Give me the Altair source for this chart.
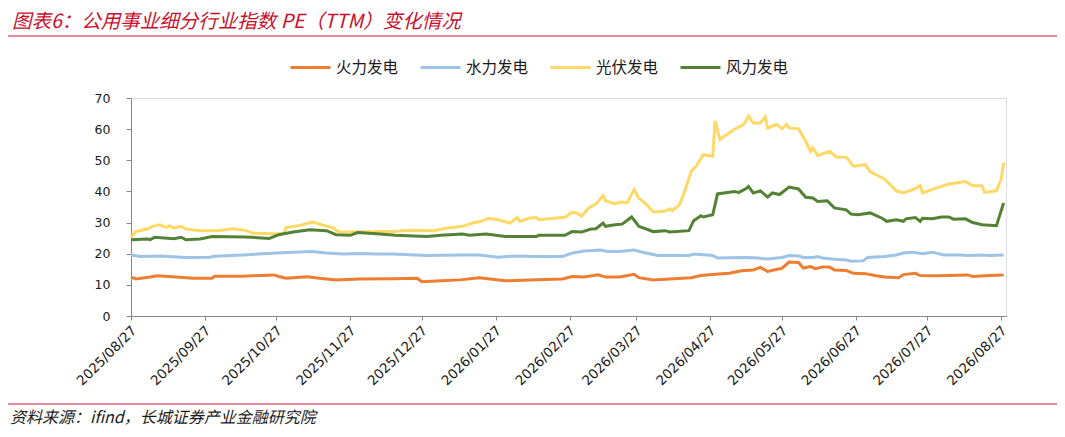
import altair as alt
import pandas as pd

series_names = ["火力发电", "水力发电", "光伏发电", "风力发电"]
series_colors = ["#ED7D31", "#9DC3E6", "#FFD966", "#548235"]

title_text = "图表6：公用事业细分行业指数 PE（TTM）变化情况"
source_text = "资料来源：ifind，长城证券产业金融研究院"

# 火力发电
huoli_dates = ["2025-08-27", "2025-08-29", "2025-09-04", "2025-09-07", "2025-09-15", "2025-09-22",
               "2025-09-30", "2025-10-01", "2025-10-13", "2025-10-26", "2025-10-28", "2025-10-31",
               "2025-11-09", "2025-11-14", "2025-11-21", "2025-12-01", "2025-12-15", "2025-12-25",
               "2025-12-27", "2026-01-04", "2026-01-12", "2026-01-20", "2026-01-31", "2026-02-13",
               "2026-02-24", "2026-02-28", "2026-03-05", "2026-03-11", "2026-03-14", "2026-03-20",
               "2026-03-26", "2026-03-28", "2026-04-03", "2026-04-10", "2026-04-19", "2026-04-23",
               "2026-04-29", "2026-05-05", "2026-05-10", "2026-05-15", "2026-05-18", "2026-05-21",
               "2026-05-25", "2026-05-27", "2026-05-30", "2026-06-03", "2026-06-05", "2026-06-08",
               "2026-06-10", "2026-06-13", "2026-06-16", "2026-06-18", "2026-06-23", "2026-06-26",
               "2026-07-01", "2026-07-05", "2026-07-09", "2026-07-15", "2026-07-17", "2026-07-22",
               "2026-07-24", "2026-07-31", "2026-08-13", "2026-08-15", "2026-08-22", "2026-08-28"]
huoli_values = [12.5, 11.9, 12.5, 12.9, 12.5, 12.1,
                12.1, 12.8, 12.8, 13.2, 12.7, 12.1,
                12.6, 12.1, 11.6, 11.9, 12.0, 12.1,
                11.0, 11.3, 11.6, 12.3, 11.3, 11.6,
                11.9, 12.7, 12.5, 13.2, 12.5, 12.5,
                13.4, 12.3, 11.6, 11.9, 12.3, 13.0,
                13.4, 13.7, 14.5, 14.8, 15.6, 14.3,
                15.0, 15.3, 17.3, 17.2, 15.4, 15.9,
                15.2, 15.7, 15.7, 14.8, 14.6, 13.7,
                13.6, 13.0, 12.5, 12.3, 13.3, 13.7,
                13.0, 12.9, 13.2, 12.7, 13.0, 13.2]

# 水力发电
shuili_dates = ["2025-08-27", "2025-08-31", "2025-09-08", "2025-09-19", "2025-09-29", "2025-10-01",
                "2025-10-13", "2025-10-27", "2025-11-03", "2025-11-11", "2025-11-17", "2025-11-24",
                "2025-12-01", "2025-12-08", "2025-12-15", "2025-12-29", "2026-01-12", "2026-01-20",
                "2026-01-28", "2026-02-05", "2026-02-13", "2026-02-24", "2026-02-28", "2026-03-05",
                "2026-03-12", "2026-03-15", "2026-03-20", "2026-03-26", "2026-03-31", "2026-04-05",
                "2026-04-18", "2026-04-20", "2026-04-28", "2026-04-30", "2026-05-12", "2026-05-17",
                "2026-05-21", "2026-05-27", "2026-05-30", "2026-06-03", "2026-06-05", "2026-06-09",
                "2026-06-11", "2026-06-13", "2026-06-18", "2026-06-23", "2026-06-25", "2026-06-30",
                "2026-07-02", "2026-07-09", "2026-07-14", "2026-07-17", "2026-07-21", "2026-07-25",
                "2026-07-29", "2026-08-03", "2026-08-10", "2026-08-13", "2026-08-19", "2026-08-22",
                "2026-08-28"]
shuili_values = [19.6, 19.1, 19.3, 18.8, 18.9, 19.2,
                 19.6, 20.2, 20.5, 20.7, 20.2, 19.9,
                 20.1, 19.9, 19.9, 19.4, 19.6, 19.6,
                 18.9, 19.3, 19.1, 19.1, 20.2, 20.9,
                 21.2, 20.7, 20.7, 21.2, 20.2, 19.4,
                 19.4, 19.9, 19.4, 18.6, 18.8, 18.6,
                 18.3, 18.8, 19.4, 19.3, 18.8, 18.8,
                 19.1, 18.6, 18.2, 18.0, 17.6, 17.7,
                 18.8, 19.1, 19.6, 20.2, 20.5, 20.0,
                 20.5, 19.6, 19.6, 19.4, 19.6, 19.4,
                 19.6]

# 光伏发电
guangfu_dates = ["2025-08-27", "2025-08-29", "2025-09-03", "2025-09-05", "2025-09-08", "2025-09-11",
                 "2025-09-12", "2025-09-14", "2025-09-17", "2025-09-19", "2025-09-25", "2025-10-02",
                 "2025-10-09", "2025-10-14", "2025-10-17", "2025-10-26", "2025-10-30", "2025-10-31",
                 "2025-11-06", "2025-11-11", "2025-11-15", "2025-11-20", "2025-11-22", "2025-11-28",
                 "2025-12-08", "2025-12-15", "2025-12-22", "2026-01-01", "2026-01-06", "2026-01-13",
                 "2026-01-18", "2026-01-21", "2026-01-24", "2026-01-28", "2026-02-02", "2026-02-05",
                 "2026-02-06", "2026-02-10", "2026-02-13", "2026-02-14", "2026-02-25", "2026-02-28",
                 "2026-03-02", "2026-03-04", "2026-03-07", "2026-03-10", "2026-03-13", "2026-03-14",
                 "2026-03-18", "2026-03-20", "2026-03-23", "2026-03-26", "2026-03-28", "2026-04-01",
                 "2026-04-03", "2026-04-08", "2026-04-10", "2026-04-11", "2026-04-14", "2026-04-16",
                 "2026-04-19", "2026-04-21", "2026-04-24", "2026-04-28", "2026-04-29", "2026-05-01",
                 "2026-05-07", "2026-05-11", "2026-05-13", "2026-05-15", "2026-05-18", "2026-05-20",
                 "2026-05-21", "2026-05-25", "2026-05-27", "2026-05-29", "2026-05-30", "2026-06-03",
                 "2026-06-04", "2026-06-06", "2026-06-08", "2026-06-09", "2026-06-11", "2026-06-16",
                 "2026-06-19", "2026-06-23", "2026-06-26", "2026-07-01", "2026-07-03", "2026-07-09",
                 "2026-07-14", "2026-07-17", "2026-07-22", "2026-07-24", "2026-07-25", "2026-07-30",
                 "2026-08-05", "2026-08-12", "2026-08-15", "2026-08-19", "2026-08-20", "2026-08-25",
                 "2026-08-27", "2026-08-28"]
guangfu_values = [25.2, 27.1, 28.0, 28.8, 29.3, 28.4,
                  29.0, 28.2, 28.8, 27.9, 27.4, 27.4,
                  28.0, 27.5, 26.6, 26.4, 26.4, 28.4,
                  29.1, 30.2, 29.3, 28.2, 27.0, 27.0,
                  27.1, 27.1, 27.5, 27.4, 28.2, 28.8,
                  30.0, 30.4, 31.4, 30.9, 29.8, 31.7,
                  30.4, 31.4, 31.7, 30.9, 31.7, 33.3,
                  33.1, 32.0, 34.7, 36.0, 38.6, 37.0,
                  36.0, 36.6, 36.3, 40.6, 37.9, 35.2,
                  33.4, 33.6, 34.4, 33.8, 35.7, 39.5,
                  46.5, 48.1, 51.8, 51.3, 62.6, 56.7,
                  59.9, 61.5, 64.2, 62.0, 62.0, 63.9,
                  60.4, 61.5, 60.1, 61.5, 60.4, 60.1,
                  58.8, 56.1, 52.9, 54.0, 51.5, 52.9,
                  51.0, 51.0, 48.1, 48.6, 46.3, 44.0,
                  40.2, 39.5, 40.9, 41.9, 39.5, 40.9,
                  42.4, 43.2, 41.8, 41.8, 39.7, 40.2,
                  44.0, 49.2]

# 风力发电
fengli_dates = ["2025-08-27", "2025-09-03", "2025-09-04", "2025-09-06", "2025-09-14", "2025-09-17",
                "2025-09-19", "2025-09-25", "2025-09-30", "2025-10-14", "2025-10-24", "2025-10-28",
                "2025-11-03", "2025-11-10", "2025-11-17", "2025-11-21", "2025-11-27", "2025-11-30",
                "2025-12-08", "2025-12-16", "2025-12-29", "2026-01-04", "2026-01-13", "2026-01-16",
                "2026-01-23", "2026-01-31", "2026-02-13", "2026-02-14", "2026-02-25", "2026-02-28",
                "2026-03-04", "2026-03-08", "2026-03-10", "2026-03-13", "2026-03-14", "2026-03-18",
                "2026-03-21", "2026-03-25", "2026-03-28", "2026-04-01", "2026-04-03", "2026-04-08",
                "2026-04-10", "2026-04-18", "2026-04-20", "2026-04-23", "2026-04-24", "2026-04-28",
                "2026-04-30", "2026-05-07", "2026-05-09", "2026-05-12", "2026-05-13", "2026-05-15",
                "2026-05-18", "2026-05-21", "2026-05-23", "2026-05-26", "2026-05-30", "2026-06-03",
                "2026-06-06", "2026-06-09", "2026-06-11", "2026-06-15", "2026-06-18", "2026-06-23",
                "2026-06-25", "2026-06-28", "2026-07-03", "2026-07-08", "2026-07-10", "2026-07-14",
                "2026-07-17", "2026-07-18", "2026-07-22", "2026-07-24", "2026-07-25", "2026-07-29",
                "2026-08-02", "2026-08-05", "2026-08-07", "2026-08-12", "2026-08-15", "2026-08-19",
                "2026-08-25", "2026-08-28"]
fengli_values = [24.5, 24.7, 24.5, 25.3, 24.8, 25.3,
                 24.5, 24.7, 25.5, 25.4, 24.9, 26.1,
                 27.0, 27.7, 27.4, 26.1, 25.9, 26.8,
                 26.4, 25.9, 25.5, 25.9, 26.3, 25.9,
                 26.3, 25.5, 25.5, 25.9, 25.9, 27.1,
                 27.0, 27.9, 28.0, 29.8, 28.8, 29.3,
                 29.5, 31.8, 28.8, 27.7, 27.1, 27.4,
                 27.0, 27.4, 30.6, 32.2, 31.8, 32.5,
                 39.2, 40.0, 39.7, 40.9, 41.6, 39.5,
                 40.2, 38.2, 39.5, 39.0, 41.4, 40.8,
                 38.1, 37.9, 36.8, 37.0, 34.7, 34.1,
                 32.7, 32.5, 33.1, 31.4, 30.4, 30.9,
                 30.4, 31.2, 31.6, 30.4, 31.4, 31.2,
                 31.8, 31.8, 31.1, 31.2, 30.0, 29.3,
                 29.0, 36.3]

tick_dates = [(2025, 8), (2025, 9), (2025, 10), (2025, 11), (2025, 12), (2026, 1), (2026, 2),
              (2026, 3), (2026, 4), (2026, 5), (2026, 6), (2026, 7), (2026, 8)]
y_ticks = [0, 10, 20, 30, 40, 50, 60, 70]

rows = []
for name, ds, vs in zip(series_names,
                        [huoli_dates, shuili_dates, guangfu_dates, fengli_dates],
                        [huoli_values, shuili_values, guangfu_values, fengli_values]):
    for d, v in zip(ds, vs):
        rows.append({"date": d, "series": name, "pe": v})
df = pd.DataFrame(rows)

axis_gray = "#868686"

lines = alt.Chart(df).mark_line(strokeWidth=3).encode(
    x=alt.X("date:T",
            scale=alt.Scale(type="utc",
                            domain=[alt.DateTime(year=2025, month=8, date=27, utc=True),
                                    alt.DateTime(year=2026, month=8, date=29, utc=True)]),
            axis=alt.Axis(title=None,
                          values=[alt.DateTime(year=y, month=m, date=27, utc=True) for y, m in tick_dates],
                          labelExpr="utcFormat(datum.value, '%Y/%m/%d')",
                          labelAngle=-45, labelAlign="right", labelBaseline="middle",
                          labelPadding=8, labelOffset=3,
                          labelFont="DejaVu Sans", labelFontSize=13.5, labelColor="#1a1a1a",
                          domainColor=axis_gray, tickColor=axis_gray, tickSize=4,
                          grid=False, labelOverlap=False, labelFlush=False)),
    y=alt.Y("pe:Q",
            scale=alt.Scale(domain=[0, 70], nice=False),
            axis=alt.Axis(title=None, values=y_ticks,
                          labelFont="DejaVu Sans", labelFontSize=12.5, labelColor="#1a1a1a",
                          labelPadding=16,
                          domainColor=axis_gray, tickColor=axis_gray, tickSize=5,
                          grid=False)),
    color=alt.Color("series:N",
                    scale=alt.Scale(domain=series_names, range=series_colors),
                    sort=series_names,
                    legend=alt.Legend(title=None, orient="none", direction="horizontal",
                                      columns=4, legendX=158, legendY=-52,
                                      symbolType="stroke", symbolSize=1600,
                                      symbolStrokeWidth=3, labelOffset=4,
                                      labelFont="Noto Sans CJK SC", labelFontSize=15.5,
                                      labelColor="#1a1a1a", columnPadding=15, padding=0)),
)

title_mark = alt.Chart(pd.DataFrame({"t": [title_text]})).mark_text(
    align="left", baseline="middle", font="Noto Sans CJK SC", fontSize=19.5,
    fontStyle="italic", color="#C8102E"
).encode(text="t:N", x=alt.value(-119), y=alt.value(-76))

source_mark = alt.Chart(pd.DataFrame({"t": [source_text]})).mark_text(
    align="left", baseline="middle", font="Noto Sans CJK SC", fontSize=16,
    fontStyle="italic", color="#1a1a1a"
).encode(text="t:N", x=alt.value(-121), y=alt.value(320))

top_rule = alt.Chart(pd.DataFrame({"k": [0]})).mark_rule(color="#E68A98", strokeWidth=2).encode(
    x=alt.value(-123), x2=alt.value(926), y=alt.value(-62))
bottom_rule = alt.Chart(pd.DataFrame({"k": [0]})).mark_rule(color="#E68A98", strokeWidth=2).encode(
    x=alt.value(-123), x2=alt.value(926), y=alt.value(306))

chart = alt.layer(lines, title_mark, source_mark, top_rule, bottom_rule).properties(
    width=875, height=218,
    padding={"left": 123, "top": 90, "right": 51, "bottom": 113},
    autosize=alt.AutoSizeParams(type="none"),
).configure_view(stroke=None).configure(background="white")

chart.save("out.html", embed_options={"renderer": "svg", "actions": False})
